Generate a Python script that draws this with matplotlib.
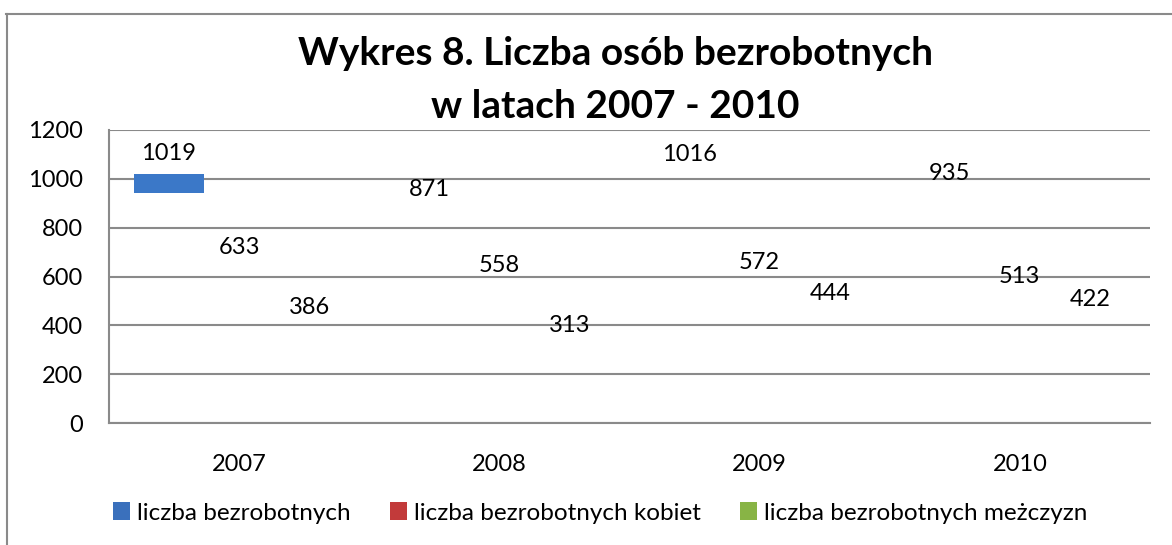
import matplotlib
matplotlib.use("Agg")
import matplotlib.pyplot as plt
from matplotlib.patches import Patch
from matplotlib.lines import Line2D
import numpy as np

years = ["2007", "2008", "2009", "2010"]
series_names = ["liczba bezrobotnych", "liczba bezrobotnych kobiet", "liczba bezrobotnych meżczyzn"]
total = [1019, 871, 1016, 935]
women = [633, 558, 572, 513]
men = [386, 313, 444, 422]
yticks = [0, 200, 400, 600, 800, 1000, 1200]
title_lines = ["Wykres 8. Liczba osób bezrobotnych", "w latach 2007 - 2010"]

legend_colors = ["#3A70BC", "#C23A3A", "#88B445"]
patch_color = "#3B78C8"
grid_color = "#8A8A8A"

plt.rcParams['font.family'] = ['Lato', 'DejaVu Sans']

fig = plt.figure(figsize=(11.72, 5.45), dpi=100)
ax = fig.add_axes([109/1172, 1-423/545, (1150-109)/1172, (423-130)/545])

x = np.arange(len(years))
w = 0.27
offsets = [-w, 0, w]
all_series = [total, women, men]

for s, off in zip(all_series, offsets):
    ax.bar(x + off, s, width=w, facecolor='none', edgecolor='none')
    for xi, v in zip(x + off, s):
        ax.annotate(str(v), (xi, v), xytext=(0, 15), textcoords='offset points',
                    ha='center', va='center', fontsize=17, color='black')

# only visible fragment: top of the first bar
seg = 78
ax.bar(x[0] + offsets[0], seg, bottom=total[0] - seg, width=w, color=patch_color, zorder=3)

ax.set_xlim(-0.5, len(years) - 0.5)
ax.set_ylim(0, 1200)
ax.set_yticks(yticks)
ax.set_yticklabels([str(t) for t in yticks], fontsize=17)
ax.set_xticks(x)
ax.set_xticklabels(years, fontsize=17)
ax.tick_params(axis='both', length=0)
ax.tick_params(axis='y', pad=19)
ax.tick_params(axis='x', pad=22)
ax.yaxis.grid(True, color=grid_color, linewidth=1.5)
ax.set_axisbelow(True)
for side in ['top', 'right']:
    ax.spines[side].set_visible(False)
for side in ['left', 'bottom']:
    ax.spines[side].set_color(grid_color)
    ax.spines[side].set_linewidth(1.5)

handles = [Patch(facecolor=c, edgecolor='none') for c in legend_colors]
fig.legend(handles, series_names, loc='center', bbox_to_anchor=(600/1172, 1-513/545),
           ncol=3, frameon=False, fontsize=17.5, handlelength=0.7, handleheight=0.7,
           handletextpad=0.3, columnspacing=1.6)

fig.text(615/1172, 1-65/545, title_lines[0], ha='center', va='baseline',
         fontsize=28, fontweight='bold')
fig.text(615/1172, 1-118/545, title_lines[1], ha='center', va='baseline',
         fontsize=28, fontweight='bold')

# outer chart border (partially visible)
fig.add_artist(Line2D([6/1172, 1], [1-14/545, 1-14/545], color=grid_color, linewidth=1.5,
                      transform=fig.transFigure))
fig.add_artist(Line2D([7/1172, 7/1172], [1-14/545, 0], color=grid_color, linewidth=1.5,
                      transform=fig.transFigure))

fig.savefig("out.png", dpi=100)
